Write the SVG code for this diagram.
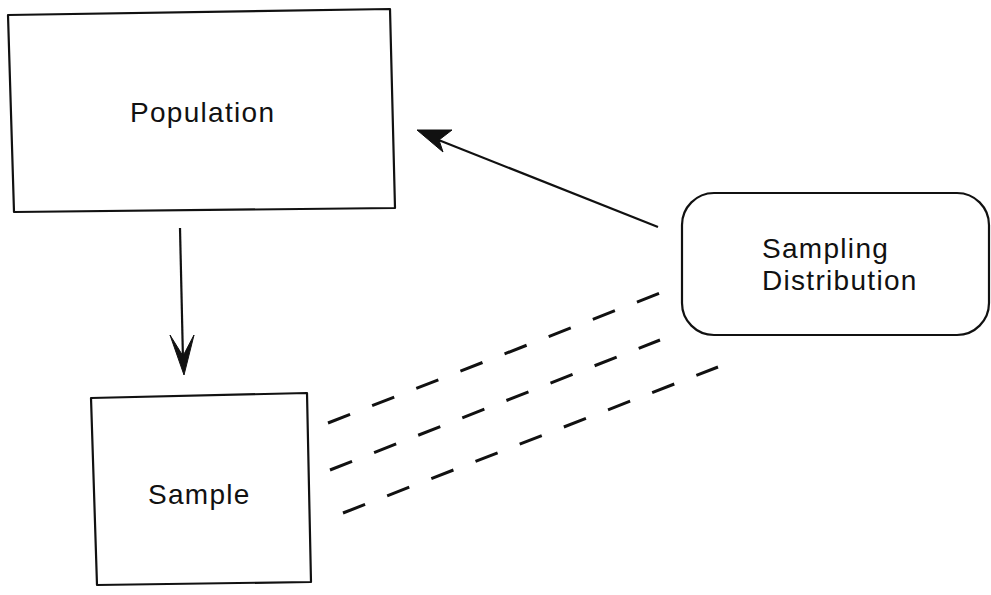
<svg xmlns="http://www.w3.org/2000/svg" width="991" height="595" viewBox="0 0 991 595">
  <style>
    .box { fill: none; stroke: #111; stroke-width: 2.2; stroke-linejoin: round; }
    .lbl { font-family: "Liberation Sans", Arial, sans-serif; font-size: 28px; fill: #111; letter-spacing: 1.3px; }
    .line { fill: none; stroke: #111; stroke-width: 2.2; }
    .dash { fill: none; stroke: #111; stroke-width: 3; stroke-dasharray: 23.7 23.7; }
    .head { fill: #111; stroke: #111; stroke-width: 1; stroke-linejoin: round; }
  </style>
  <rect width="991" height="595" fill="#ffffff"/>
  <g id="population">
    <polygon class="box" points="8,15 390,9 395,208 14,212"/>
    <text class="lbl" x="130" y="122">Population</text>
  </g>
  <g id="sample">
    <polygon class="box" points="91,398 307,393 311,582 97,585"/>
    <text class="lbl" x="148" y="504">Sample</text>
  </g>
  <g id="sampling-distribution">
    <rect class="box" x="682" y="193" width="307" height="142" rx="32" ry="32"/>
    <text class="lbl" x="762" y="258">Sampling</text>
    <text class="lbl" x="762" y="290">Distribution</text>
  </g>
  <g id="connectors">
    <line class="line" x1="180" y1="228" x2="183" y2="360"/>
    <path class="head" d="M184,375 L170,335 L183,356 L194,335 Z"/>
    <line class="line" x1="658" y1="227" x2="436" y2="139"/>
    <path class="head" d="M417,130 L452,130 L439,140 L443,152 Z"/>
    <line class="dash" x1="328" y1="423" x2="660" y2="293"/>
    <line class="dash" x1="330" y1="470" x2="660" y2="340"/>
    <line class="dash" x1="343" y1="513" x2="718" y2="367"/>
  </g>
</svg>
